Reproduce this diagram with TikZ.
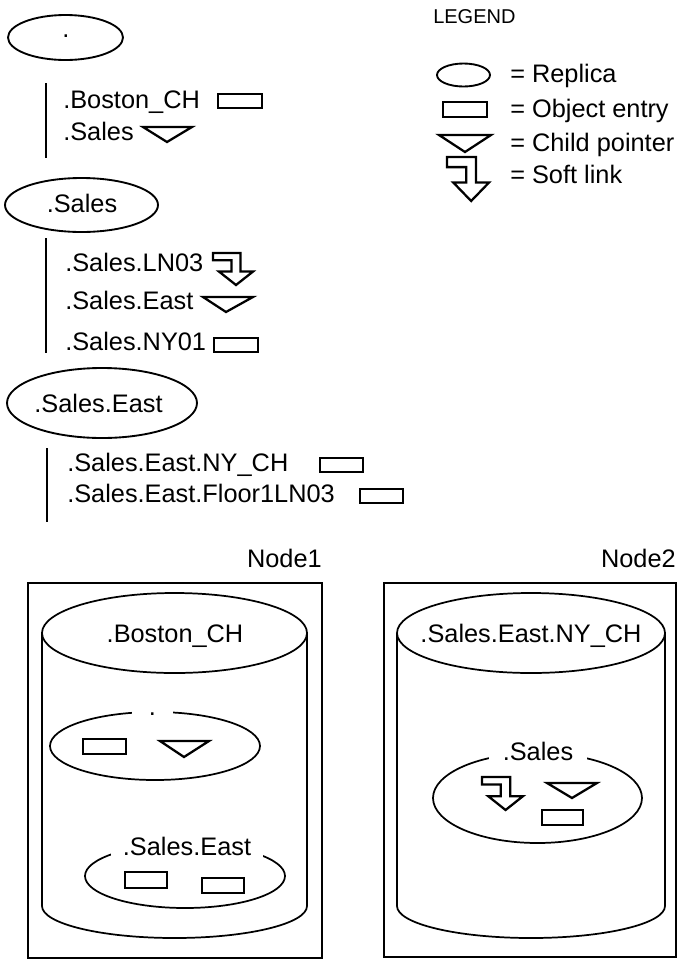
\documentclass[tikz,border=0pt]{standalone}
\usepackage{fontspec}
\setmainfont{Liberation Sans}
\newcommand\slink[4]{\draw[icon] ({#1},{#2}) -- ({#1+0.69*#3},{#2}) -- ({#1+0.69*#3},{#2+0.58*#4}) -- ({#1+#3},{#2+0.58*#4}) -- ({#1+0.575*#3},{#2+#4}) -- ({#1+0.15*#3},{#2+0.58*#4}) -- ({#1+0.46*#3},{#2+0.58*#4}) -- ({#1+0.46*#3},{#2+0.23*#4}) -- ({#1},{#2+0.23*#4}) -- cycle;}
\tikzset{
  lbl/.style={font=\fontsize{19}{23}\selectfont, anchor=base west, inner sep=0pt},
  clbl/.style={font=\fontsize{19}{23}\selectfont, anchor=base, inner sep=0pt},
  gaplbl/.style={font=\fontsize{19}{23}\selectfont, anchor=base, fill=white, inner ysep=3pt},
  oval/.style={line width=1.4pt},
  icon/.style={line width=1.7pt, line join=miter},
  treeline/.style={line width=2pt},
  cyl/.style={line width=1.3pt},
  frame/.style={line width=1.4pt}
}
\begin{document}
\begin{tikzpicture}[x=0.75pt,y=-0.75pt]
\useasboundingbox (0,0) rectangle (677,961);

% ---------- tree ----------
\draw[oval] (65.5,37.5) ellipse [x radius=57.5, y radius=22.5];
\node[clbl] (rootdot) at (66,37) {.};
\draw[treeline] (46,83) -- (46,158);
\node[lbl] (t1) at (63,108) {.Boston\_CH};
\draw[icon] (218,94) rectangle (262,108);
\node[lbl] (t2) at (63,140) {.Sales};
\draw[icon] (143,127) -- (192,127) -- (167,142) -- cycle;

\draw[oval] (81.5,205) ellipse [x radius=76.5, y radius=27];
\node[clbl] (sales) at (82,212) {.Sales};
\draw[treeline] (46,238) -- (46,353);
\node[lbl] (t3) at (65,271) {.Sales.LN03};
\slink{213}{253}{40}{32}
\node[lbl] (t4) at (65,309) {.Sales.East};
\draw[icon] (203,297) -- (253,297) -- (226,312) -- cycle;
\node[lbl] (t5) at (65,350) {.Sales.NY01};
\draw[icon] (214,338) rectangle (258,352);

\draw[oval] (102,403) ellipse [x radius=95, y radius=35];
\node[clbl] (saleseast) at (98.5,412) {.Sales.East};
\draw[treeline] (47,448) -- (47,522);
\node[lbl] (t6) at (67,471) {.Sales.East.NY\_CH};
\draw[icon] (320,458) rectangle (363,472);
\node[lbl] (t7) at (67,502) {.Sales.East.Floor1LN03};
\draw[icon] (360,489) rectangle (403,503);

% ---------- legend ----------
\node[font=\fontsize{15}{18}\selectfont, anchor=base west, inner sep=0pt] (legend) at (433,23) {LEGEND};
\draw[oval] (463.5,75) ellipse [x radius=26.5, y radius=11.5];
\node[lbl] (l1) at (510,82) {= Replica};
\draw[icon] (443,102) rectangle (487,117);
\node[lbl] (l2) at (510,117) {= Object entry};
\draw[icon] (439,135) -- (491,135) -- (465,152) -- cycle;
\node[lbl] (l3) at (510,151) {= Child pointer};
\slink{447}{157}{42}{44}
\node[lbl] (l4) at (510,183) {= Soft link};

% ---------- Node1 ----------
\node[font=\fontsize{19}{23}\selectfont, anchor=base east, inner sep=0pt] (node1) at (322,567) {Node1};
\draw[frame] (28,583) rectangle (322,958);
\draw[cyl] (174.5,633) ellipse [x radius=132.5, y radius=40];
\draw[cyl] (42,633) -- (42,906) (307,633) -- (307,906);
\draw[cyl] (42,906) arc[start angle=180, end angle=0, x radius=132.5, y radius=32];
\node[clbl] (boston) at (175,642) {.Boston\_CH};

\draw[cyl] (155,746) ellipse [x radius=105, y radius=34];
\node[gaplbl, inner xsep=12.5pt] (n1root) at (152.5,715) {.};
\draw[icon] (83,739) rectangle (126,754);
\draw[icon] (160,741) -- (209,741) -- (184,757) -- cycle;

\draw[cyl] (185,876) ellipse [x radius=100, y radius=32];
\node[gaplbl, inner xsep=9pt] (n1east) at (187,855) {.Sales.East};
\draw[icon] (125,872) rectangle (167,888);
\draw[icon] (202,878) rectangle (244,893);

% ---------- Node2 ----------
\node[font=\fontsize{19}{23}\selectfont, anchor=base east, inner sep=0pt] (node2) at (676,567) {Node2};
\draw[frame] (384,583) rectangle (676,957);
\draw[cyl] (531,633) ellipse [x radius=134, y radius=40];
\draw[cyl] (397,633) -- (397,906) (665,633) -- (665,906);
\draw[cyl] (397,906) arc[start angle=180, end angle=0, x radius=134, y radius=32];
\node[clbl] (nych) at (531,642) {.Sales.East.NY\_CH};

\draw[cyl] (537.5,798) ellipse [x radius=104.5, y radius=45];
\node[gaplbl, inner xsep=10pt] (n2sales) at (538,760) {.Sales};
\slink{482}{777}{41}{33}
\draw[icon] (547,783) -- (597,783) -- (572,798) -- cycle;
\draw[icon] (542,810) rectangle (583,825);
\end{tikzpicture}
\end{document}
